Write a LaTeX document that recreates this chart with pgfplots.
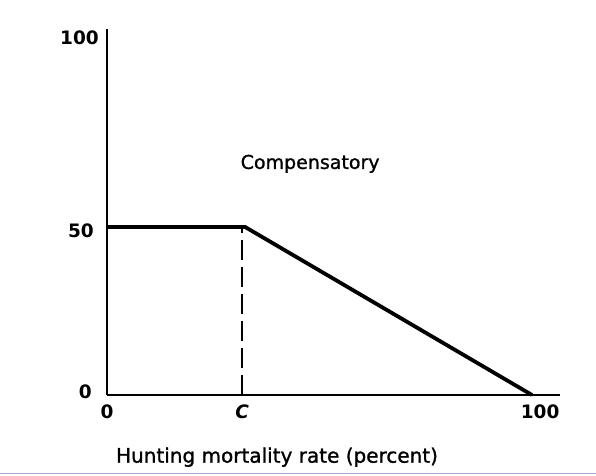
\documentclass[border=0pt]{standalone}
\usepackage{fontspec}
\setmainfont{DejaVu Sans}
\newfontfamily\medfont[FakeBold=1.2]{DejaVu Sans}
\usepackage{pgfplots}
\pgfplotsset{compat=1.18}
\definecolor{edgeblue}{RGB}{165,165,205}

\begin{document}
\begin{tikzpicture}
\useasboundingbox (0,0) rectangle (596bp,476bp);
\begin{axis}[
  x=4.25bp, y=3.36bp,
  anchor=origin, at={(107bp,81bp)},
  xmin=0, xmax=106.5, ymin=0, ymax=109,
  clip=false,
  axis x line=bottom, axis y line=left,
  axis line style={-, line width=2.7bp},
  x axis line style={-}, y axis line style={-},
  major tick length=0pt, tick style={draw=none},
  xtick={0,31.8}, xticklabels={0,\textit{C}},
  extra x ticks={101.9}, extra x tick labels={\raisebox{-5bp}{100}},
  ytick={0.9,48.8,106.4},
  yticklabels={0\kern15bp,50\kern13bp,100\kern8bp},
  tick label style={font=\fontsize{18.5bp}{20bp}\selectfont\bfseries, inner sep=0pt},
  xticklabel style={anchor=north, yshift=-10bp},
  yticklabel style={anchor=east, xshift=0pt},
]
% threshold C (dashed)
\addplot[line width=2.3bp, dash pattern=on 20bp off 7bp] coordinates {(31.8,0) (31.8,50)};
% survival curve
\addplot[line width=3.8bp, line join=miter] coordinates {(0,50) (32.5,50) (100,0)};

\node[font=\medfont\fontsize{19bp}{21bp}\selectfont] at (axis cs:47.8,68.8) {Compensatory};
\node[font=\medfont\fontsize{20bp}{22bp}\selectfont] at (axis cs:40,-18.5) {Hunting mortality rate (percent)};
\end{axis}
\draw[edgeblue, line width=1.2bp] (0,2.5bp) -- (596bp,2.5bp);
\end{tikzpicture}
\end{document}
